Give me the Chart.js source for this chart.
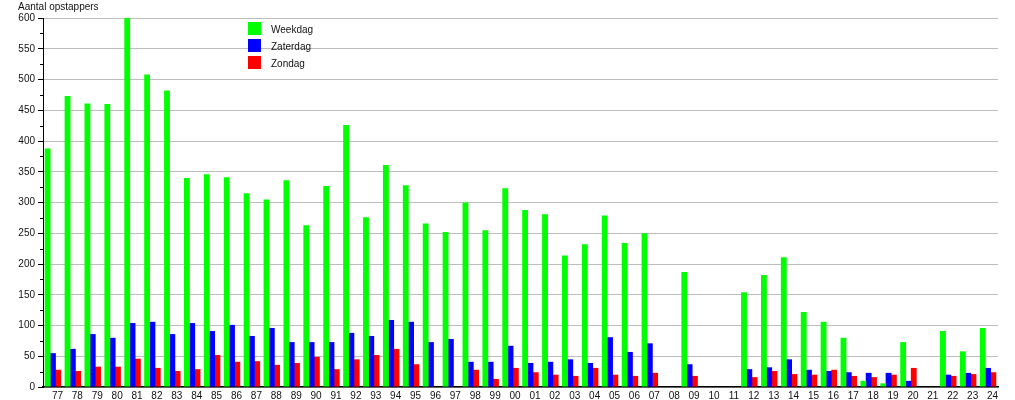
<!DOCTYPE html>
<html>
<head>
<meta charset="utf-8">
<script src="https://cdn.jsdelivr.net/npm/chart.js@4/dist/chart.umd.min.js"></script>
<style>
  html, body { margin: 0; padding: 0; background: #fff; }
  #wrap { width: 1015px; height: 400px; }
</style>
</head>
<body>
<div id="wrap"><canvas id="c" width="1015" height="400"></canvas></div>
<script>
const categories = ['77','78','79','80','81','82','83','84','85','86','87','88','89','90','91','92','93','94','95','96','97','98','99',
  '00','01','02','03','04','05','06','07','08','09','10','11','12','13','14','15','16','17','18','19','20','21','22','23','24'];
const weekdag = [388,473,461,460,600,508,482,340,346,341,315,305,336,263,327,426,276,361,328,266,252,300,255,
  323,288,281,214,232,279,234,250,0,187,0,0,154,182,211,122,106,80,10,6,73,0,91,58,96];
const zaterdag = [55,62,86,80,104,106,86,104,91,101,83,96,73,73,73,88,83,109,106,73,78,41,41,
  67,39,41,45,39,81,57,71,0,37,0,0,29,32,45,28,26,24,23,23,10,0,20,23,31];
const zondag = [28,26,33,33,46,31,26,29,52,41,42,36,39,49,29,45,52,62,37,0,0,28,13,
  31,24,20,18,31,20,18,23,0,18,0,0,16,26,21,20,28,18,16,20,31,0,18,21,24];
const seriesNames = ['Weekdag','Zaterdag','Zondag'];
const yTicks = { min: 0, max: 600, step: 50, minorStep: 25 };
const yTitle = 'Aantal opstappers';

const FONT = '"Liberation Sans", Arial, sans-serif';
const colors = ['#00ff00', '#0000ff', '#ff0000'];

const extras = {
  id: 'extras',
  afterDraw(chart) {
    const ctx = chart.ctx;
    const y = chart.scales.y;
    const left = chart.chartArea.left;
    ctx.save();
    // minor ticks
    ctx.strokeStyle = '#000';
    ctx.lineWidth = 1;
    for (let v = yTicks.minorStep; v < yTicks.max; v += yTicks.step) {
      const py = Math.round(y.getPixelForValue(v)) + 0.5;
      ctx.beginPath();
      ctx.moveTo(left - 3, py);
      ctx.lineTo(left, py);
      ctx.stroke();
    }
    // title
    ctx.fillStyle = '#111';
    ctx.font = '10px ' + FONT;
    ctx.textAlign = 'left';
    ctx.textBaseline = 'alphabetic';
    ctx.fillText(yTitle, 18, 10);
    // legend
    chart.data.datasets.forEach((ds, i) => {
      const sy = 22 + i * 17;
      ctx.fillStyle = ds.backgroundColor;
      ctx.fillRect(248, sy, 13, 13);
      ctx.fillStyle = '#111';
      ctx.textBaseline = 'alphabetic';
      ctx.fillText(ds.label, 271, sy + 11);
    });
    ctx.restore();
  }
};

new Chart(document.getElementById('c'), {
  type: 'bar',
  data: {
    labels: categories,
    datasets: [
      { label: seriesNames[0], data: weekdag, backgroundColor: colors[0] },
      { label: seriesNames[1], data: zaterdag, backgroundColor: colors[1] },
      { label: seriesNames[2], data: zondag, backgroundColor: colors[2] }
    ]
  },
  options: {
    responsive: false,
    animation: false,
    devicePixelRatio: 1,
    layout: { padding: { left: 0, right: 17, top: 18, bottom: 0 } },
    datasets: { bar: { categoryPercentage: 0.8, barPercentage: 1.1, borderWidth: 0 } },
    plugins: { legend: { display: false }, tooltip: { enabled: false }, title: { display: false } },
    scales: {
      x: {
        offset: true,
        grid: { display: false, drawTicks: false },
        border: { display: true, color: '#000', width: 1.5 },
        ticks: { color: '#111', font: { family: FONT, size: 10 }, padding: 3, labelOffset: 4.5,
                 maxRotation: 0, minRotation: 0, autoSkip: false },
        afterFit(scale) { scale.height = 13; }
      },
      y: {
        min: yTicks.min, max: yTicks.max,
        grid: { color: '#bdbdbd', lineWidth: 1, tickColor: '#000', tickLength: 5, drawTicks: true },
        border: { display: true, color: '#000', width: 1 },
        ticks: { stepSize: yTicks.step, color: '#111', font: { family: FONT, size: 10 }, padding: 3 },
        afterFit(scale) { scale.width = 43; }
      }
    }
  },
  plugins: [extras]
});
</script>
</body>
</html>
